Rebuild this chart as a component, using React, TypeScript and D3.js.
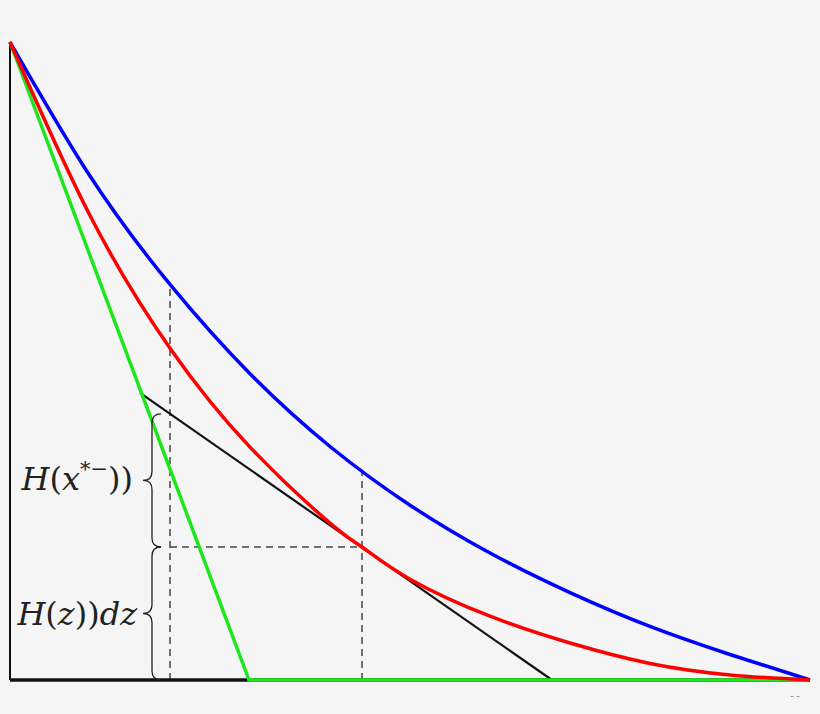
import React, { useEffect } from "react";
import * as d3 from "d3";

type Pt = [number, number];

// curves (x and y both run 0..1)
const blueX = [0, 0.1, 0.2, 0.3, 0.4, 0.5, 0.6, 0.7, 0.8, 0.9, 1];
const blueY = [1, 0.79, 0.62, 0.48, 0.366, 0.274, 0.199, 0.137, 0.084, 0.04, 0];

const redX = [0, 0.1, 0.2, 0.3, 0.4, 0.44, 0.5, 0.6, 0.7, 0.8, 0.9, 1];
const redY = [1, 0.728, 0.52, 0.365, 0.246, 0.2085, 0.158, 0.1, 0.058, 0.026, 0.008, 0];

const greenX = [0, 0.29875, 1];
const greenY = [1, 0, 0];

// tangent line to the red curve at xStar
const tangentX = [0.1625, 0.6775];
const tangentY = [0.45, 0];

const xLow = 0.2; // left dashed guide
const xStar = 0.44; // tangent point
const yStar = 0.2085;
const braceX = 0.175;
const braceTops = [0.417, 0.2085];
const braceBottoms = [0.2085, 0];

const W = 820;
const H = 714;

const zip = (xs: number[], ys: number[]): Pt[] => xs.map((v, i) => [v, ys[i]]);

const Brace = ({ x, y1, y2 }: { x: number; y1: number; y2: number }) => {
  const r = 9;
  const ym = (y1 + y2) / 2;
  const p = d3.path();
  p.moveTo(x + r, y1);
  p.quadraticCurveTo(x, y1, x, y1 + r);
  p.lineTo(x, ym - r);
  p.quadraticCurveTo(x, ym, x - r, ym);
  p.quadraticCurveTo(x, ym, x, ym + r);
  p.lineTo(x, y2 - r);
  p.quadraticCurveTo(x, y2, x + r, y2);
  return <path d={p.toString()} fill="none" stroke="#222" strokeWidth={1.3} />;
};

export default function App() {
  useEffect(() => {
    document.body.style.margin = "0";
    document.body.style.background = "#f5f5f5";
  }, []);

  const x = d3.scaleLinear().domain([0, 1]).range([10, 810]);
  const y = d3.scaleLinear().domain([0, 1]).range([680, 42]);

  const smooth = d3
    .line<Pt>()
    .x((d) => x(d[0]))
    .y((d) => y(d[1]))
    .curve(d3.curveNatural);
  const straight = d3
    .line<Pt>()
    .x((d) => x(d[0]))
    .y((d) => y(d[1]));

  const blueAt = (v: number) => {
    const i = d3.bisectLeft(blueX, v);
    return i < blueX.length && blueX[i] === v
      ? blueY[i]
      : d3.scaleLinear().domain(blueX).range(blueY)(v);
  };
  const dash = { stroke: "#444", strokeWidth: 1.5, strokeDasharray: "7 5", fill: "none" };
  const font = "DejaVu Serif, serif";

  return (
    <svg width={W} height={H} style={{ display: "block" }}>
      <rect width={W} height={H} fill="#f5f5f5" />

      {/* dashed guides */}
      <line x1={x(xLow)} x2={x(xLow)} y1={y(0)} y2={y(blueAt(xLow))} {...dash} />
      <line x1={x(xStar)} x2={x(xStar)} y1={y(0)} y2={y(blueAt(xStar))} {...dash} />
      <line x1={x(xLow)} x2={x(xStar)} y1={y(yStar)} y2={y(yStar)} {...dash} />

      {/* axes */}
      <line x1={x(0)} x2={x(0)} y1={y(1)} y2={y(0)} stroke="#111" strokeWidth={2} />
      <line x1={x(0)} x2={x(1)} y1={y(0)} y2={y(0)} stroke="#111" strokeWidth={3.5} />

      <path d={straight(zip(tangentX, tangentY)) ?? ""} fill="none" stroke="#111" strokeWidth={2.2} />
      <path d={straight(zip(greenX, greenY)) ?? ""} fill="none" stroke="#1ee61e" strokeWidth={3.5} />
      <path d={smooth(zip(blueX, blueY)) ?? ""} fill="none" stroke="#0000ff" strokeWidth={3.5} />
      <path d={smooth(zip(redX, redY)) ?? ""} fill="none" stroke="#ff0000" strokeWidth={3.5} />

      {braceTops.map((t, i) => (
        <Brace key={i} x={x(braceX) + 2} y1={y(t)} y2={y(braceBottoms[i])} />
      ))}

      <text x={133} y={490} textAnchor="end" fontFamily={font} fontSize={32} fill="#222" fontWeight={300}>
        <tspan fontStyle="italic">H</tspan>(<tspan fontStyle="italic">x</tspan>
        <tspan dy={-14} fontSize={21}>*−</tspan>
        <tspan dy={14}>))</tspan>
      </text>
      <text x={137} y={625} textAnchor="end" fontFamily={font} fontSize={32} fill="#222" fontWeight={300}>
        <tspan fontStyle="italic">H</tspan>(<tspan fontStyle="italic">z</tspan>))<tspan fontStyle="italic">dz</tspan>
      </text>

      <text x={795} y={699} textAnchor="middle" fontFamily={font} fontSize={9} fill="#666">
        - -
      </text>
    </svg>
  );
}
